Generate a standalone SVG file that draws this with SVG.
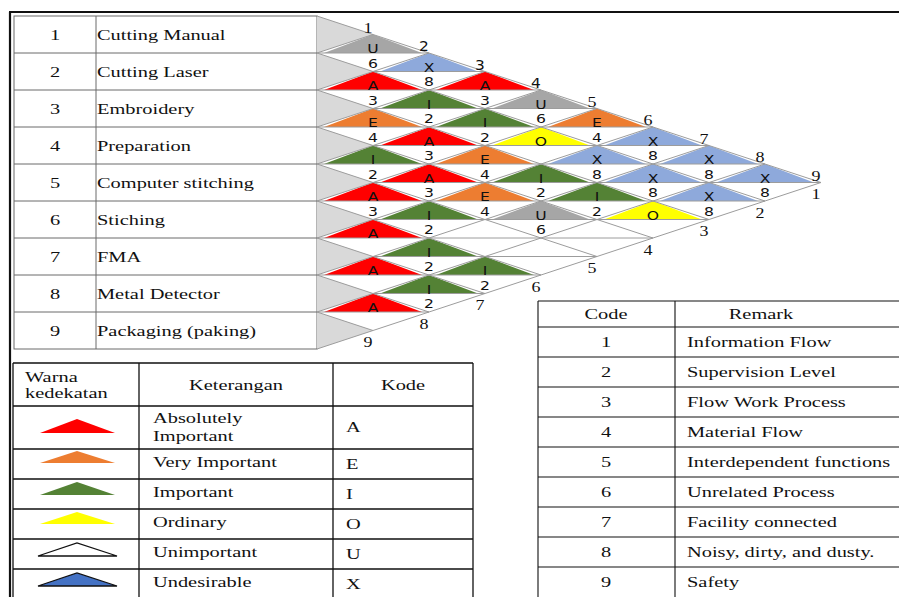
<svg xmlns="http://www.w3.org/2000/svg" width="899" height="597" viewBox="0 0 899 597">
<style>
.s{font-family:"Liberation Serif","Times New Roman",serif;font-size:15px;fill:#111}
.m{text-anchor:middle}
.c{font-family:"DejaVu Sans",sans-serif;font-size:12px;fill:#111;text-anchor:middle}
.grid{stroke:#9c9c9c;stroke-width:1;fill:none}
.tb{stroke:#6a6a6a;stroke-width:1;fill:none}
.bk{stroke:#111;stroke-width:1.3;fill:none}
.lt{fill:#d9d9d9}
.A{fill:#ff0000}.E{fill:#ed7d31}.I{fill:#548235}.O{fill:#ffff00}.U{fill:#a6a6a6}.X{fill:#8ea9db}
</style>
<defs>
<polygon id="tri" points="-49,0 49,0 0,-18.5"/>
</defs>
<rect x="0" y="0" width="899" height="597" fill="#fff"/>
<g id="frame">
<path d="M10 12V597M9 12H899" stroke="#111" stroke-width="2.2" fill="none"/>
</g>
<g id="dept-table">
<rect x="14" y="16" width="303" height="333" class="tb"/>
<path class="tb" d="M14 53H317M14 90H317M14 127H317M14 164H317M14 201H317M14 238H317M14 275H317M14 312H317M96 16V349"/>
</g>
<g id="dept-1"><text class="s m" transform="translate(55,40) scale(1.36,1)">1</text><text class="s" transform="translate(97,40) scale(1.36,1)">Cutting Manual</text></g>
<g id="dept-2"><text class="s m" transform="translate(55,77) scale(1.36,1)">2</text><text class="s" transform="translate(97,77) scale(1.36,1)">Cutting Laser</text></g>
<g id="dept-3"><text class="s m" transform="translate(55,114) scale(1.36,1)">3</text><text class="s" transform="translate(97,114) scale(1.36,1)">Embroidery</text></g>
<g id="dept-4"><text class="s m" transform="translate(55,151) scale(1.36,1)">4</text><text class="s" transform="translate(97,151) scale(1.36,1)">Preparation</text></g>
<g id="dept-5"><text class="s m" transform="translate(55,188) scale(1.36,1)">5</text><text class="s" transform="translate(97,188) scale(1.36,1)">Computer stitching</text></g>
<g id="dept-6"><text class="s m" transform="translate(55,225) scale(1.36,1)">6</text><text class="s" transform="translate(97,225) scale(1.36,1)">Stiching</text></g>
<g id="dept-7"><text class="s m" transform="translate(55,262) scale(1.36,1)">7</text><text class="s" transform="translate(97,262) scale(1.36,1)">FMA</text></g>
<g id="dept-8"><text class="s m" transform="translate(55,299) scale(1.36,1)">8</text><text class="s" transform="translate(97,299) scale(1.36,1)">Metal Detector</text></g>
<g id="dept-9"><text class="s m" transform="translate(55,336) scale(1.36,1)">9</text><text class="s" transform="translate(97,336) scale(1.36,1)">Packaging (paking)</text></g>

<g id="row-heads">
<polygon class="lt" points="317,16 373,34.5 317,53"/>
<polygon class="lt" points="317,53 373,71.5 317,90"/>
<polygon class="lt" points="317,90 373,108.5 317,127"/>
<polygon class="lt" points="317,127 373,145.5 317,164"/>
<polygon class="lt" points="317,164 373,182.5 317,201"/>
<polygon class="lt" points="317,201 373,219.5 317,238"/>
<polygon class="lt" points="317,238 373,256.5 317,275"/>
<polygon class="lt" points="317,275 373,293.5 317,312"/>
<polygon class="lt" points="317,312 373,330.5 317,349"/>
</g>

<g id="cells">
<g id="c1-2"><use href="#tri" x="373" y="53" class="U"/></g>
<g id="c1-3"><use href="#tri" x="429" y="71.5" class="X"/></g>
<g id="c1-4"><use href="#tri" x="485" y="90" class="A"/></g>
<g id="c1-5"><use href="#tri" x="541" y="108.5" class="U"/></g>
<g id="c1-6"><use href="#tri" x="597" y="127" class="E"/></g>
<g id="c1-7"><use href="#tri" x="653" y="145.5" class="X"/></g>
<g id="c1-8"><use href="#tri" x="709" y="164" class="X"/></g>
<g id="c1-9"><use href="#tri" x="765" y="182.5" class="X"/></g>
<g id="c2-3"><use href="#tri" x="373" y="90" class="A"/></g>
<g id="c2-4"><use href="#tri" x="429" y="108.5" class="I"/></g>
<g id="c2-5"><use href="#tri" x="485" y="127" class="I"/></g>
<g id="c2-6"><use href="#tri" x="541" y="145.5" class="O"/></g>
<g id="c2-7"><use href="#tri" x="597" y="164" class="X"/></g>
<g id="c2-8"><use href="#tri" x="653" y="182.5" class="X"/></g>
<g id="c2-9"><use href="#tri" x="709" y="201" class="X"/></g>
<g id="c3-4"><use href="#tri" x="373" y="127" class="E"/></g>
<g id="c3-5"><use href="#tri" x="429" y="145.5" class="A"/></g>
<g id="c3-6"><use href="#tri" x="485" y="164" class="E"/></g>
<g id="c3-7"><use href="#tri" x="541" y="182.5" class="I"/></g>
<g id="c3-8"><use href="#tri" x="597" y="201" class="I"/></g>
<g id="c3-9"><use href="#tri" x="653" y="219.5" class="O"/></g>
<g id="c4-5"><use href="#tri" x="373" y="164" class="I"/></g>
<g id="c4-6"><use href="#tri" x="429" y="182.5" class="A"/></g>
<g id="c4-7"><use href="#tri" x="485" y="201" class="E"/></g>
<g id="c4-8"><use href="#tri" x="541" y="219.5" class="U"/></g>
<g id="c5-6"><use href="#tri" x="373" y="201" class="A"/></g>
<g id="c5-7"><use href="#tri" x="429" y="219.5" class="I"/></g>
<g id="c6-7"><use href="#tri" x="373" y="238" class="A"/></g>
<g id="c6-8"><use href="#tri" x="429" y="256.5" class="I"/></g>
<g id="c6-9"><use href="#tri" x="485" y="275" class="I"/></g>
<g id="c7-8"><use href="#tri" x="373" y="275" class="A"/></g>
<g id="c7-9"><use href="#tri" x="429" y="293.5" class="I"/></g>
<g id="c8-9"><use href="#tri" x="373" y="312" class="A"/></g>
</g>

<g id="grid" class="grid">
<path d="M317 16L821 182.5M317 53L765 201M317 90L709 219.5M317 127L653 238M317 164L597 256.5M317 201L541 275M317 238L485 293.5M317 275L429 312M317 312L373 330.5"/>
<path d="M317 53L373 34.5M317 90L429 53M317 127L485 71.5M317 164L541 90M317 201L597 108.5M317 238L653 127M317 275L709 145.5M317 312L765 164M317 349L821 182.5"/>
<path d="M317 53H429M373 71.5H485M317 90H541M373 108.5H597M317 127H653M373 145.5H709M317 164H765M373 182.5H821M317 201H765M373 219.5H709M317 238H653M373 256.5H597M317 275H541M373 293.5H485M317 312H429"/>
</g>

<g id="cell-text">
<text class="c" transform="translate(373,53) scale(1.3,1)">U</text><text class="c" transform="translate(373,67.5) scale(1.3,1)">6</text>
<text class="c" transform="translate(429,71.5) scale(1.3,1)">X</text><text class="c" transform="translate(429,86) scale(1.3,1)">8</text>
<text class="c" transform="translate(485,90) scale(1.3,1)">A</text><text class="c" transform="translate(485,104.5) scale(1.3,1)">3</text>
<text class="c" transform="translate(541,108.5) scale(1.3,1)">U</text><text class="c" transform="translate(541,123) scale(1.3,1)">6</text>
<text class="c" transform="translate(597,127) scale(1.3,1)">E</text><text class="c" transform="translate(597,141.5) scale(1.3,1)">4</text>
<text class="c" transform="translate(653,145.5) scale(1.3,1)">X</text><text class="c" transform="translate(653,160) scale(1.3,1)">8</text>
<text class="c" transform="translate(709,164) scale(1.3,1)">X</text><text class="c" transform="translate(709,178.5) scale(1.3,1)">8</text>
<text class="c" transform="translate(765,182.5) scale(1.3,1)">X</text><text class="c" transform="translate(765,197) scale(1.3,1)">8</text>
<text class="c" transform="translate(373,90) scale(1.3,1)">A</text><text class="c" transform="translate(373,104.5) scale(1.3,1)">3</text>
<text class="c" transform="translate(429,108.5) scale(1.3,1)">I</text><text class="c" transform="translate(429,123) scale(1.3,1)">2</text>
<text class="c" transform="translate(485,127) scale(1.3,1)">I</text><text class="c" transform="translate(485,141.5) scale(1.3,1)">2</text>
<text class="c" transform="translate(541,145.5) scale(1.3,1)">O</text>
<text class="c" transform="translate(597,164) scale(1.3,1)">X</text><text class="c" transform="translate(597,178.5) scale(1.3,1)">8</text>
<text class="c" transform="translate(653,182.5) scale(1.3,1)">X</text><text class="c" transform="translate(653,197) scale(1.3,1)">8</text>
<text class="c" transform="translate(709,201) scale(1.3,1)">X</text><text class="c" transform="translate(709,215.5) scale(1.3,1)">8</text>
<text class="c" transform="translate(373,127) scale(1.3,1)">E</text><text class="c" transform="translate(373,141.5) scale(1.3,1)">4</text>
<text class="c" transform="translate(429,145.5) scale(1.3,1)">A</text><text class="c" transform="translate(429,160) scale(1.3,1)">3</text>
<text class="c" transform="translate(485,164) scale(1.3,1)">E</text><text class="c" transform="translate(485,178.5) scale(1.3,1)">4</text>
<text class="c" transform="translate(541,182.5) scale(1.3,1)">I</text><text class="c" transform="translate(541,197) scale(1.3,1)">2</text>
<text class="c" transform="translate(597,201) scale(1.3,1)">I</text><text class="c" transform="translate(597,215.5) scale(1.3,1)">2</text>
<text class="c" transform="translate(653,219.5) scale(1.3,1)">O</text>
<text class="c" transform="translate(373,164) scale(1.3,1)">I</text><text class="c" transform="translate(373,178.5) scale(1.3,1)">2</text>
<text class="c" transform="translate(429,182.5) scale(1.3,1)">A</text><text class="c" transform="translate(429,197) scale(1.3,1)">3</text>
<text class="c" transform="translate(485,201) scale(1.3,1)">E</text><text class="c" transform="translate(485,215.5) scale(1.3,1)">4</text>
<text class="c" transform="translate(541,219.5) scale(1.3,1)">U</text><text class="c" transform="translate(541,234) scale(1.3,1)">6</text>
<text class="c" transform="translate(373,201) scale(1.3,1)">A</text><text class="c" transform="translate(373,215.5) scale(1.3,1)">3</text>
<text class="c" transform="translate(429,219.5) scale(1.3,1)">I</text><text class="c" transform="translate(429,234) scale(1.3,1)">2</text>
<text class="c" transform="translate(373,238) scale(1.3,1)">A</text>
<text class="c" transform="translate(429,256.5) scale(1.3,1)">I</text><text class="c" transform="translate(429,271) scale(1.3,1)">2</text>
<text class="c" transform="translate(485,275) scale(1.3,1)">I</text><text class="c" transform="translate(485,289.5) scale(1.3,1)">2</text>
<text class="c" transform="translate(373,275) scale(1.3,1)">A</text>
<text class="c" transform="translate(429,293.5) scale(1.3,1)">I</text><text class="c" transform="translate(429,308) scale(1.3,1)">2</text>
<text class="c" transform="translate(373,312) scale(1.3,1)">A</text>
</g>

<g id="edge-labels">
<text class="s m" transform="translate(368,32.5) scale(1.2,1)">1</text>
<text class="c" style="font-size:14px" transform="translate(424,51) scale(1.1,1)">2</text>
<text class="c" style="font-size:14px" transform="translate(480,69.5) scale(1.1,1)">3</text>
<text class="c" style="font-size:14px" transform="translate(536,88) scale(1.1,1)">4</text>
<text class="s m" transform="translate(592,106.5) scale(1.2,1)">5</text>
<text class="s m" transform="translate(648,125) scale(1.2,1)">6</text>
<text class="s m" transform="translate(704,143.5) scale(1.2,1)">7</text>
<text class="s m" transform="translate(760,162) scale(1.2,1)">8</text>
<text class="s m" transform="translate(816,180.5) scale(1.2,1)">9</text>
<text class="s m" transform="translate(368,347) scale(1.2,1)">9</text>
<text class="s m" transform="translate(424,328.5) scale(1.2,1)">8</text>
<text class="s m" transform="translate(480,310) scale(1.2,1)">7</text>
<text class="s m" transform="translate(536,291.5) scale(1.2,1)">6</text>
<text class="s m" transform="translate(592,273) scale(1.2,1)">5</text>
<text class="s m" transform="translate(648,254.5) scale(1.2,1)">4</text>
<text class="s m" transform="translate(704,236) scale(1.2,1)">3</text>
<text class="s m" transform="translate(760,217.5) scale(1.2,1)">2</text>
<text class="s m" transform="translate(816,199) scale(1.2,1)">1</text>
</g>

<g id="legend-table">
<path class="bk" d="M13 363H473M13 406H473M13 449H473M13 479H473M13 509H473M13 539H473M13 569H473M13 363V597M139 363V597M333 363V597M473 363V597"/>
<text class="s" transform="translate(25,382) scale(1.36,1)">Warna</text>
<text class="s" transform="translate(25,398) scale(1.36,1)">kedekatan</text>
<text class="s m" transform="translate(236,390) scale(1.36,1)">Keterangan</text>
<text class="s m" transform="translate(403,390) scale(1.36,1)">Kode</text>
</g>
<g id="leg-A"><polygon class="A" points="40,433 115,433 77,419"/><text class="s" transform="translate(153,423) scale(1.36,1)">Absolutely</text><text class="s" transform="translate(153,441) scale(1.36,1)">Important</text><text class="s" transform="translate(346,432) scale(1.36,1)">A</text></g>
<g id="leg-E"><polygon class="E" points="40,463 115,463 77,451"/><text class="s" transform="translate(153,467) scale(1.36,1)">Very Important</text><text class="s" transform="translate(346,469) scale(1.36,1)">E</text></g>
<g id="leg-I"><polygon class="I" points="40,495 115,495 77,482"/><text class="s" transform="translate(153,497) scale(1.36,1)">Important</text><text class="s" transform="translate(346,499) scale(1.36,1)">I</text></g>
<g id="leg-O"><polygon class="O" points="40,524 115,524 77,512"/><text class="s" transform="translate(153,527) scale(1.36,1)">Ordinary</text><text class="s" transform="translate(346,529) scale(1.36,1)">O</text></g>
<g id="leg-U"><polygon points="38,556 117,556 77,543" fill="#fff" stroke="#111" stroke-width="1.3"/><text class="s" transform="translate(153,557) scale(1.36,1)">Unimportant</text><text class="s" transform="translate(346,559) scale(1.36,1)">U</text></g>
<g id="leg-X"><polygon points="38,586 117,586 77,573" fill="#4472c4" stroke="#111" stroke-width="1.3"/><text class="s" transform="translate(153,587) scale(1.36,1)">Undesirable</text><text class="s" transform="translate(346,589) scale(1.36,1)">X</text></g>

<g id="code-table">
<path class="bk" style="stroke-width:1.1" d="M538 301H899M538 327H899M538 357H899M538 387H899M538 417H899M538 447H899M538 477H899M538 507H899M538 537H899M538 567H899M538 301V597M675 301V597"/>
<text class="s m" transform="translate(606,319) scale(1.36,1)">Code</text>
<text class="s m" transform="translate(761,319) scale(1.36,1)">Remark</text>
<text class="s m" transform="translate(606,347) scale(1.36,1)">1</text><text class="s" transform="translate(687,347) scale(1.36,1)">Information Flow</text>
<text class="s m" transform="translate(606,377) scale(1.36,1)">2</text><text class="s" transform="translate(687,377) scale(1.36,1)">Supervision Level</text>
<text class="s m" transform="translate(606,407) scale(1.36,1)">3</text><text class="s" transform="translate(687,407) scale(1.36,1)">Flow Work Process</text>
<text class="s m" transform="translate(606,437) scale(1.36,1)">4</text><text class="s" transform="translate(687,437) scale(1.36,1)">Material Flow</text>
<text class="s m" transform="translate(606,467) scale(1.36,1)">5</text><text class="s" transform="translate(687,467) scale(1.36,1)">Interdependent functions</text>
<text class="s m" transform="translate(606,497) scale(1.36,1)">6</text><text class="s" transform="translate(687,497) scale(1.36,1)">Unrelated Process</text>
<text class="s m" transform="translate(606,527) scale(1.36,1)">7</text><text class="s" transform="translate(687,527) scale(1.36,1)">Facility connected</text>
<text class="s m" transform="translate(606,557) scale(1.36,1)">8</text><text class="s" transform="translate(687,557) scale(1.36,1)">Noisy, dirty, and dusty.</text>
<text class="s m" transform="translate(606,587) scale(1.36,1)">9</text><text class="s" transform="translate(687,587) scale(1.36,1)">Safety</text>
</g>
</svg>
